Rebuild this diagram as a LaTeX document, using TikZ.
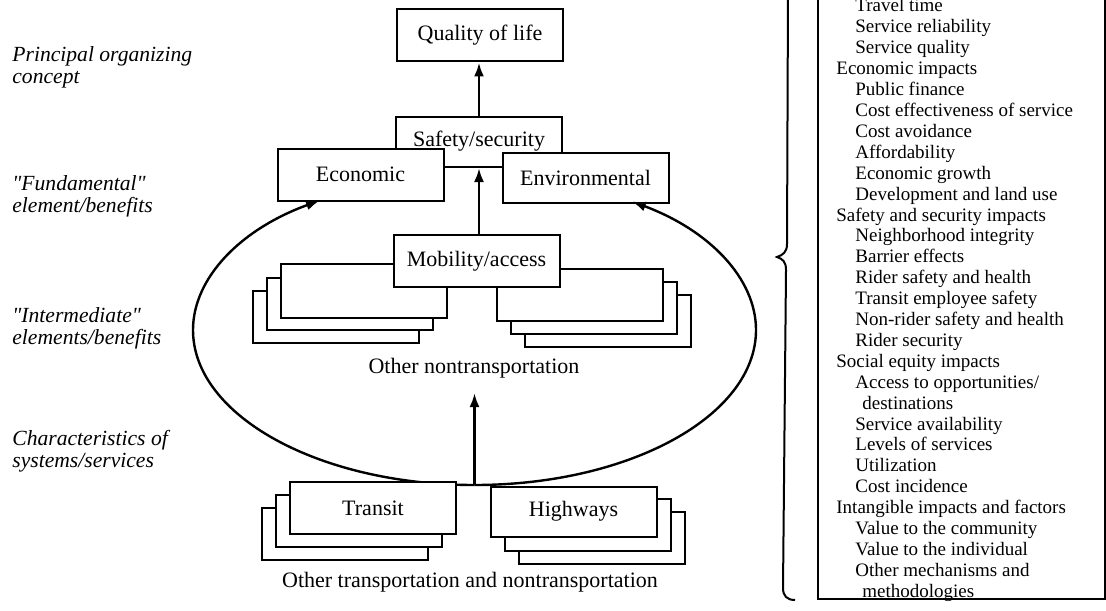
\documentclass[tikz,border=0pt]{standalone}
\usepackage{fontspec}
\setmainfont{Liberation Serif}
\newfontfamily\tierfont{Liberation Serif}[Ligatures=ResetAll]
\usetikzlibrary{arrows.meta}

\begin{document}
\begin{tikzpicture}[x=0.5pt, y=-0.5pt,
    >={Latex[length=7pt,width=5pt]},
    box/.style={draw, fill=white, line width=1pt, minimum width=83pt,
      minimum height=26pt, inner sep=0pt, font=\fontsize{11}{13}\selectfont},
    tier/.style={font=\tierfont\fontsize{10.8}{10.9}\selectfont\itshape, align=left,
      anchor=west, inner sep=0pt},
    item/.style={font=\fontsize{9.5}{10.5}\selectfont, anchor=base west, inner sep=0pt},
    flow/.style={->, line width=1.3pt}]

  \useasboundingbox (0,0) rectangle (1106,610);

  % tiers on the left
  \node[tier] (tierA) at (12,67.5) {Principal organizing\\concept};
  \node[tier] (tierB) at (12,196.5) {"Fundamental"\\element/benefits};
  \node[tier] (tierC) at (12,328) {"Intermediate"\\elements/benefits};
  \node[tier] (tierD) at (12,451.5) {Characteristics of\\systems/services};

  % top of the hierarchy
  \node[box] (quality) at (480,35.5) {Quality of life};
  \node[box, minimum height=25pt] (safety) at (479,142) {\raisebox{3pt}{Safety/security}};
  \node[box] (economic) at (360.5,174.5) {Economic};
  \node[box, minimum height=25pt] (environ) at (585.5,177.5) {Environmental};

  % stacks behind mobility
  \foreach \k in {2,1}
    \node[box] (left\k) at ({363.5-14*\k},{290.5+13*\k}) {};
  \node[box, minimum height=27pt] (left0) at (363.5,290.5) {};
  \foreach \k in {2,1}
    \node[box] (right\k) at ({579.5+14*\k},{295+13*\k}) {};
  \node[box] (right0) at (579.5,295) {};
  \node[box] (mobility) at (476.5,261) {Mobility/access};

  \node[font=\fontsize{11}{13}\selectfont] (othernon) at (474,368) {Other nontransportation};

  % systems at the bottom
  \coordinate (hub) at (474.5,485);
  \draw[line width=1.2pt, ->] (hub) arc[start angle=90, end angle=236.7, x radius=281.5, y radius=155];
  \draw[line width=1.2pt, ->] (hub) arc[start angle=90, end angle=-56, x radius=281.5, y radius=155];

  \foreach \k in {2,1}
    \node[box] (transit\k) at ({373-14*\k},{508+13*\k}) {};
  \node[box] (transit) at (373,508) {Transit};
  \foreach \k in {2,1}
    \node[box] (highway\k) at ({573.5+14*\k},{511.5+13*\k}) {};
  \node[box, minimum height=25pt] (highways) at (573.5,511.5) {Highways};

  \node[font=\fontsize{11}{13}\selectfont] (othertrans) at (470,582) {Other transportation and nontransportation};

  % arrows up the middle
  \draw[flow, shorten >=4pt] (hub) -- (hub |- othernon.south);
  \draw[flow] (mobility.north -| safety.south) -- (safety.south);
  \draw[flow] (safety.north) -- (safety.north |- quality.south);

  % measures list with its brace
  \draw[line width=1pt] (788,-10) -- (787,244) .. controls (787,252) and (783,255) .. (777,257)
    .. controls (783,259) and (786,262) .. (786,270) -- (783,588)
    .. controls (783,596) and (787,600) .. (795,600);
  \draw[line width=1pt] (818,-10) rectangle (1105,599);

  \foreach \xpos/\txt [count=\i from 0] in {
      855/Travel time, 855/Service reliability, 855/Service quality,
      836/Economic impacts, 855/Public finance, 855/Cost effectiveness of service,
      855/Cost avoidance, 855/Affordability, 855/Economic growth,
      855/Development and land use,
      836/Safety and security impacts, 855/Neighborhood integrity, 855/Barrier effects,
      855/Rider safety and health, 855/Transit employee safety,
      855/Non-rider safety and health, 855/Rider security,
      836/Social equity impacts, 855/{Access to opportunities/}, 862/destinations,
      855/Service availability, 855/Levels of services, 855/Utilization,
      855/Cost incidence,
      836/Intangible impacts and factors, 855/Value to the community,
      855/Value to the individual, 855/Other mechanisms and, 862/methodologies}
    \node[item] (item\i) at (\xpos,{12+20.9*\i}) {\txt};
\end{tikzpicture}
\end{document}
